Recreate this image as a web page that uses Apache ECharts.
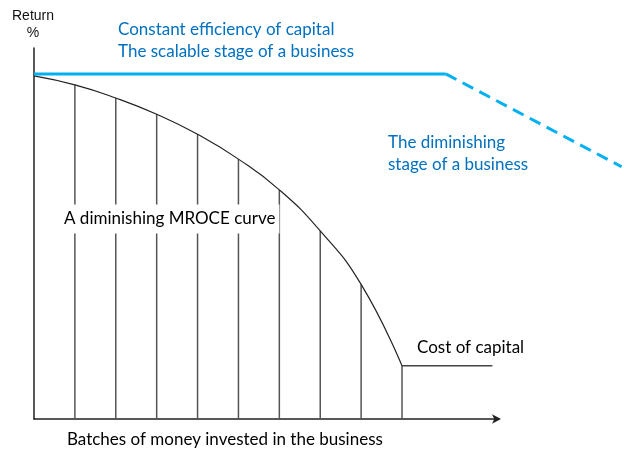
<!DOCTYPE html>
<html>
<head>
<meta charset="utf-8">
<script src="https://cdn.jsdelivr.net/npm/echarts@6/dist/echarts.min.js"></script>
<style>
  html, body { margin: 0; padding: 0; background: #fff; }
  #chart { width: 640px; height: 460px; }
</style>
</head>
<body>
<div id="chart"></div>
<script>
// batches of money invested (x) and the marginal return on each (y, % of the starting level)
const batches = [0, 1, 2, 3, 4, 5, 6, 7, 8, 9];
const mroce = [99.4, 96.8, 93.0, 88.3, 82.5, 75.3, 66.4, 54.5, 39.0, 15.4];

// cost of capital: flat line starting where the curve ends
const costOfCapital = 15.4;
const costEndX = 11.21;

// constant efficiency (solid) and the diminishing stage (dashed)
const constantX = [0, 10.07];
const constantY = [100, 100];
const diminishX = [10.07, 14.37];
const diminishY = [100, 73.1];

// axis extents: the drawn x axis stops at xMax, the blue line runs on to xWide
const xMax = 11.32;
const xWide = 14.38;
const yMax = 107.5;

let pairs = (xs, ys) => xs.map((x, i) => [x, ys[i]]);

let myChart = echarts.init(document.getElementById('chart'));

const calibri = 'Lato, "Open Sans", sans-serif';
const blueText = '#0070C0';
const hidden = { show: false };

let txt = (x, y, text, fill, font, extra) => ({
    type: 'text', x: x, y: y, z: 100,
    style: Object.assign({ text: text, fill: fill, font: font, verticalAlign: 'middle' }, extra || {})
});

myChart.setOption({
    animation: false,
    grid: [
        { left: 34, right: 143, top: 48, bottom: 41 },  // visible axes
        { left: 34, right: 18, top: 48, bottom: 41 }    // same scale, wider, for the marks
    ],
    xAxis: [
        {
            gridIndex: 0, type: 'value', min: 0, max: xMax,
            axisLine: {
                show: true, onZero: false,
                symbol: ['none', 'arrow'], symbolSize: [7, 9], symbolOffset: [0, 4],
                lineStyle: { color: '#222', width: 1.5 }
            },
            axisTick: hidden, axisLabel: hidden, splitLine: hidden
        },
        {
            gridIndex: 1, type: 'value', min: 0, max: xWide,
            axisLine: hidden, axisTick: hidden, axisLabel: hidden, splitLine: hidden
        }
    ],
    yAxis: [
        {
            gridIndex: 0, type: 'value', min: 0, max: yMax,
            axisLine: { show: true, onZero: false, lineStyle: { color: '#222', width: 1.5 } },
            axisTick: hidden, axisLabel: hidden, splitLine: hidden
        },
        {
            gridIndex: 1, type: 'value', min: 0, max: yMax,
            axisLine: hidden, axisTick: hidden, axisLabel: hidden, splitLine: hidden
        }
    ],
    series: [
        {
            // vertical bars under the curve for each batch
            type: 'custom',
            xAxisIndex: 1, yAxisIndex: 1,
            clip: false,
            z: 1,
            data: pairs(batches.slice(1), mroce.slice(1)),
            renderItem: (params, api) => {
                let top = api.coord([api.value(0), api.value(1)]);
                let bottom = api.coord([api.value(0), 0]);
                return {
                    type: 'line',
                    shape: { x1: top[0], y1: top[1], x2: bottom[0], y2: bottom[1] },
                    style: { stroke: '#555', lineWidth: 1.5 }
                };
            }
        },
        {
            type: 'line',
            xAxisIndex: 1, yAxisIndex: 1,
            data: pairs(batches, mroce),
            smooth: 0.5,
            showSymbol: false,
            clip: false,
            z: 3,
            lineStyle: { color: '#222', width: 1.2 }
        },
        {
            type: 'line',
            xAxisIndex: 1, yAxisIndex: 1,
            data: [[batches[batches.length - 1], costOfCapital], [costEndX, costOfCapital]],
            showSymbol: false,
            clip: false,
            lineStyle: { color: '#444', width: 1.5 }
        },
        {
            type: 'line',
            xAxisIndex: 1, yAxisIndex: 1,
            data: pairs(constantX, constantY),
            showSymbol: false,
            clip: false,
            z: 4,
            lineStyle: { color: '#00B0F0', width: 3 }
        },
        {
            type: 'line',
            xAxisIndex: 1, yAxisIndex: 1,
            data: pairs(diminishX, diminishY),
            showSymbol: false,
            clip: false,
            lineStyle: { color: '#00B0F0', width: 3, type: [12, 7] }
        }
    ],
    graphic: [
        txt(33, 16, 'Return', '#111', '14px "Liberation Sans", Arial, sans-serif', { align: 'center' }),
        txt(33, 33, '%', '#111', '14px "Liberation Sans", Arial, sans-serif', { align: 'center' }),
        txt(118, 30, 'Constant efficiency of capital', blueText, '17px ' + calibri),
        txt(118, 52, 'The scalable stage of a business', blueText, '17px ' + calibri),
        txt(388, 143, 'The diminishing', blueText, '17px ' + calibri),
        txt(388, 165, 'stage of a business', blueText, '17px ' + calibri),
        txt(60, 219, 'A diminishing MROCE curve', '#000', '17px ' + calibri,
            { backgroundColor: '#fff', padding: [6, 4, 6, 4] }),
        txt(417, 348, 'Cost of capital', '#000', '17px ' + calibri),
        txt(67, 440, 'Batches of money invested in the business', '#000', '17px ' + calibri)
    ]
});
</script>
</body>
</html>
